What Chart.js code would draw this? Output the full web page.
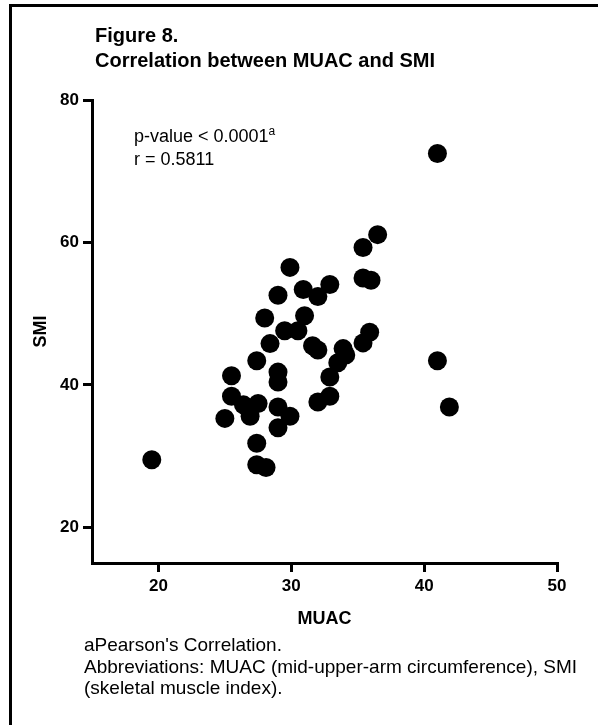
<!DOCTYPE html>
<html lang="en">
<head>
<meta charset="UTF-8">
<title>Figure 8 - MUAC vs SMI</title>
<script src="https://cdn.jsdelivr.net/npm/chart.js@4.4.0/dist/chart.umd.min.js"></script>
<style>
    body { margin: 0; background: #fff; font-family: "Liberation Sans", Arial, sans-serif; color: #000; }
    #wrap { position: relative; width: 598px; height: 725px; overflow: hidden; }
    #frame { position: absolute; left: 9px; top: 4px; width: 700px; height: 800px;
             border-left: 3px solid #000; border-top: 3px solid #000; }
    #chart { position: absolute; left: 0; top: 0; }
    .title { position: absolute; left: 95px; top: 23px; font-weight: bold; font-size: 20px; line-height: 25px; }
    .stats { position: absolute; left: 134px; top: 126px; font-size: 18px; line-height: 21px; }
    .stats sup { font-size: 12px; vertical-align: 0; position: relative; top: -7px; }
    .note { position: absolute; left: 84px; top: 634px; font-size: 19px; line-height: 21.5px; }
</style>
</head>
<body>
<div id="wrap">
    <div id="frame"></div>
    <canvas id="chart" width="598" height="725"></canvas>
    <div class="title">Figure 8.<br>Correlation between MUAC and SMI</div>
    <div class="stats">p-value &lt; 0.0001<sup>a</sup><br>r = 0.5811</div>
    <div class="note">aPearson's Correlation.<br>Abbreviations: MUAC (mid-upper-arm circumference), SMI<br>(skeletal muscle index).</div>
</div>
<script>
    // values
    const muac = [19.5, 41.0, 41.0, 41.9, 36.5, 35.4, 35.4, 36.0, 35.9, 35.4,
                  33.9, 34.1, 33.5, 32.9, 32.9, 32.0, 32.9, 32.0, 30.9, 29.9,
                  29.0, 28.0, 31.0, 29.5, 30.5, 28.4, 31.6, 32.0, 27.4, 29.0,
                  29.0, 25.5, 25.5, 26.4, 27.5, 26.9, 25.0, 29.0, 29.9, 29.0,
                  27.4, 27.4, 28.1];
    const smi = [29.5, 72.5, 43.4, 36.9, 61.1, 59.3, 55.0, 54.7, 47.4, 45.9,
                 45.1, 44.2, 43.1, 41.1, 38.4, 37.6, 54.1, 52.4, 53.4, 56.5,
                 52.6, 49.4, 49.7, 47.6, 47.6, 45.8, 45.5, 44.9, 43.4, 41.8,
                 40.4, 41.3, 38.4, 37.2, 37.4, 35.6, 35.3, 36.9, 35.6, 34.0,
                 31.8, 28.8, 28.4];
    const xTicks = [20, 30, 40, 50];
    const yTicks = [20, 40, 60, 80];

    const points = muac.map((x, i) => ({ x: x, y: smi[i] }));
    const fam = '"Liberation Sans", Arial, sans-serif';

    function axis(min, max, ticks, label, isY) {
        return {
            type: 'linear',
            min: min,
            max: max,
            afterBuildTicks: s => { s.ticks = ticks.map(v => ({ value: v })); },
            afterFit: s => { if (isY) s.width = 62; else s.height = 67; },
            grid: { drawOnChartArea: false, drawTicks: true, tickLength: 9, lineWidth: 3, color: '#000' },
            border: { display: true, color: '#000', width: 3 },
            ticks: { color: '#000', padding: 4, maxRotation: 0, font: { family: fam, size: 17, weight: 'bold' } },
            title: { display: true, text: label, color: '#000', padding: 0, font: { family: fam, size: 18, weight: 'bold' } }
        };
    }

    new Chart(document.getElementById('chart'), {
        type: 'scatter',
        data: {
            datasets: [{
                data: points,
                backgroundColor: '#000',
                borderWidth: 0,
                pointRadius: 9.5,
                pointHoverRadius: 9.5,
                clip: false
            }]
        },
        options: {
            responsive: false,
            animation: false,
            layout: { padding: { left: 30, right: 41, top: 100, bottom: 95 } },
            plugins: { legend: { display: false }, tooltip: { enabled: false } },
            scales: {
                x: axis(15, 50, xTicks, 'MUAC', false),
                y: axis(15, 80, yTicks, 'SMI', true)
            }
        }
    });
</script>
</body>
</html>
